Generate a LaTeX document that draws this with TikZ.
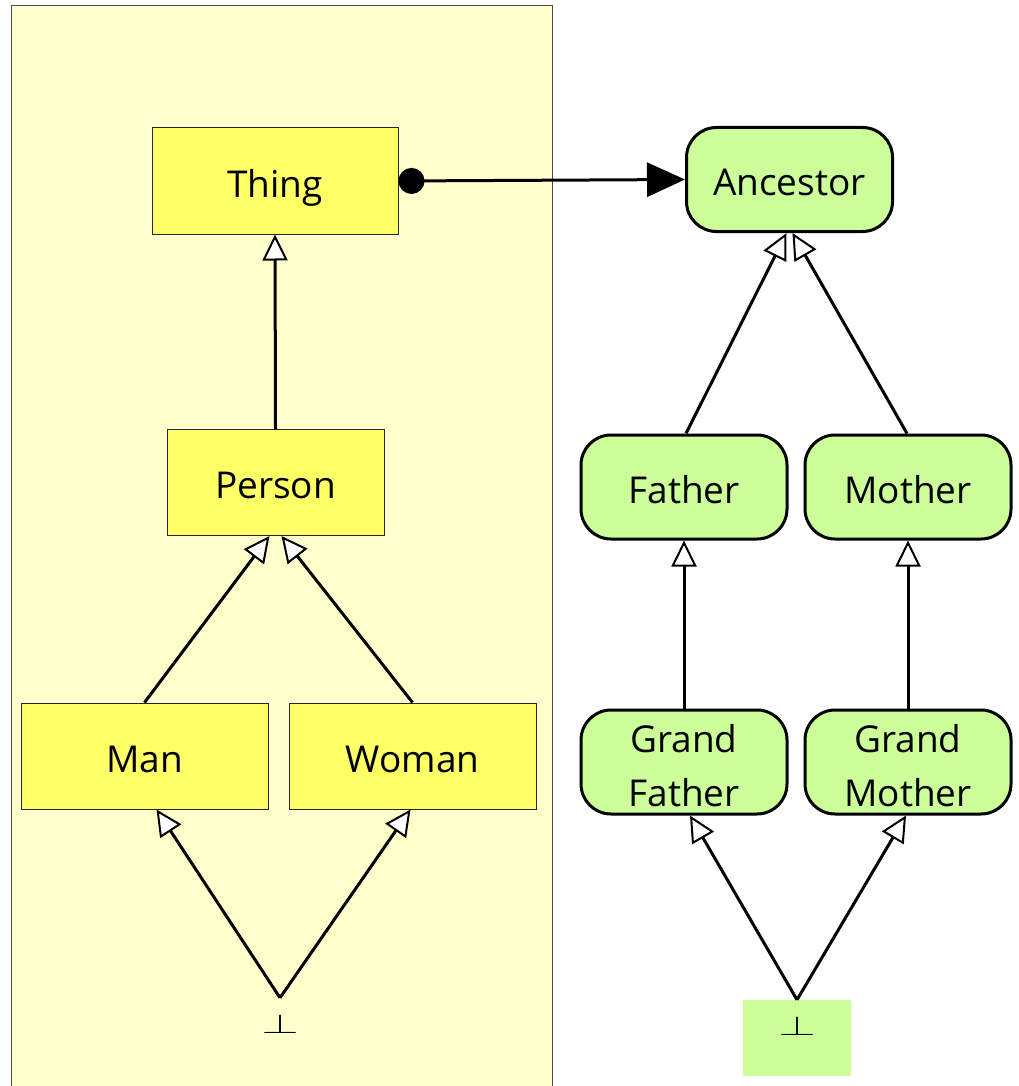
\documentclass[tikz,border=0pt]{standalone}
\usepackage{fontspec}
\setmainfont{Open Sans}
\usetikzlibrary{arrows.meta}
\definecolor{panelY}{HTML}{FFFFCC}
\definecolor{nodeY}{HTML}{FFFF66}
\definecolor{nodeG}{HTML}{CCFF99}
\begin{document}
\begin{tikzpicture}[x=1pt,y=-1pt,
  yel/.style={draw=black!85, line width=1pt, fill=nodeY, minimum width=246pt, minimum height=106pt, inner sep=0pt, text height=32pt, text depth=0pt, font=\fontsize{37}{54}\selectfont},
  grn/.style={draw=black, line width=3pt, fill=nodeG, rounded corners=30pt, minimum width=206pt, minimum height=104pt, inner sep=0pt, align=center, text height=32pt, text depth=0pt, font=\fontsize{37}{54}\selectfont},
  twoline/.style={text height=88pt, text depth=0pt},
  botnode/.style={minimum width=108pt, minimum height=76pt, inner sep=0pt, text depth=24pt},
  isa/.style={line width=3pt, -{Triangle[length=26pt, width=25pt, fill=white, line width=2pt]}},
  rel/.style={line width=3pt, {Circle[length=26pt]}-{Triangle[length=38pt, width=34pt]}}
]
\useasboundingbox (0,0) rectangle (1018,1086);
\fill[panelY] (11,6) rectangle (552,1092);
\draw[black!70, line width=1pt] (11,1092) -- (11,6) -- (552,6) -- (552,1092);

\node[yel] (thing) at (275,181) {Thing};
\node[yel, minimum width=217pt] (person) at (275.5,482.5) {Person};
\node[yel, minimum width=247pt] (man) at (144.5,756) {Man};
\node[yel, minimum width=247pt] (woman) at (412.5,756) {Woman};
\node[botnode] (botL) at (280,1036) {\resizebox{37pt}{19pt}{$\perp$}};

\node[grn] (ancestor) at (789.5,179.5) {Ancestor};
\node[grn] (father) at (684,487) {Father};
\node[grn] (mother) at (908,487) {Mother};
\node[grn, twoline] (gfather) at (684,762) {Grand\\Father};
\node[grn, twoline] (gmother) at (908,762) {Grand\\Mother};
\node[botnode, fill=nodeG] (botR) at (797,1038) {\resizebox{37pt}{19pt}{$\perp$}};

\draw[rel] (thing.east) -- (ancestor.west);
\draw[isa] (person.north) -- (thing.south);
\draw[isa] (man.north) -- ([xshift=-6pt]person.south);
\draw[isa] (woman.north) -- ([xshift=6pt]person.south);
\draw[isa] (botL.north) -- ([xshift=12pt]man.south);
\draw[isa] (botL.north) -- ([xshift=-2pt]woman.south);

\draw[isa] ([xshift=2pt]father.north) -- ([xshift=-3pt]ancestor.south);
\draw[isa] ([xshift=-1pt]mother.north) -- ([xshift=3pt]ancestor.south);
\draw[isa] (gfather.north) -- (father.south);
\draw[isa] (gmother.north) -- (mother.south);
\draw[isa] (botR.north) -- ([xshift=6pt]gfather.south);
\draw[isa] (botR.north) -- ([xshift=-2pt]gmother.south);
\end{tikzpicture}
\end{document}
